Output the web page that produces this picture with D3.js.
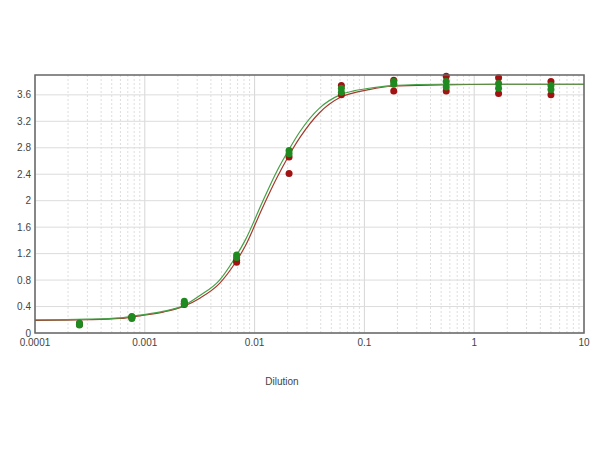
<!DOCTYPE html>
<html>
<head>
<meta charset="utf-8">
<script src="https://cdn.jsdelivr.net/npm/d3@7"></script>
<style>
  body { margin: 0; background: #fff; }
  svg { display: block; }
</style>
</head>
<body>
<div id="chart"></div>
<script>
const dilutions = [0.000254, 0.000762, 0.00229, 0.00686, 0.0206, 0.0617, 0.185, 0.556, 1.667, 5];
const redRep1   = [0.13, 0.23, 0.45, 1.10, 2.66, 3.74, 3.82, 3.88, 3.86, 3.80];
const redRep2   = [0.14, 0.24, 0.43, 1.07, 2.41, 3.60, 3.66, 3.66, 3.62, 3.60];
const greenRep1 = [0.15, 0.25, 0.48, 1.18, 2.76, 3.70, 3.80, 3.80, 3.77, 3.74];
const greenRep2 = [0.12, 0.22, 0.44, 1.14, 2.71, 3.64, 3.76, 3.72, 3.70, 3.68];

// fitted curves
const curveX     = [0.0001, 0.0003, 0.0006, 0.0009, 0.0015, 0.0023, 0.0032, 0.0048, 0.0066, 0.0082, 0.0117, 0.016, 0.02, 0.026, 0.039, 0.06, 0.08, 0.11, 0.18, 0.5, 1.5, 10];
const greenCurve = [0.20, 0.21, 0.23, 0.27, 0.33, 0.42, 0.57, 0.80, 1.13, 1.40, 1.97, 2.45, 2.74, 3.05, 3.40, 3.60, 3.66, 3.70, 3.74, 3.76, 3.76, 3.76];
const redCurve   = [0.19, 0.20, 0.22, 0.26, 0.32, 0.41, 0.53, 0.75, 1.05, 1.31, 1.88, 2.35, 2.65, 2.96, 3.33, 3.56, 3.63, 3.68, 3.73, 3.75, 3.76, 3.76];

const xTicks = [0.0001, 0.001, 0.01, 0.1, 1, 10];
const xTickLabels = ["0.0001", "0.001", "0.01", "0.1", "1", "10"];
const yTicks = [0, 0.4, 0.8, 1.2, 1.6, 2, 2.4, 2.8, 3.2, 3.6];

const width = 600;
const height = 450;
const plot = { left: 35, right: 584, top: 75, bottom: 333 };

const svg = d3.select("#chart").append("svg")
    .attr("width", width)
    .attr("height", height)
    .style("font-family", "'Liberation Sans', Arial, sans-serif");

svg.append("rect")
    .attr("width", width)
    .attr("height", height)
    .attr("fill", "#fff");

const x = d3.scaleLog()
    .domain([0.0001, 10])
    .range([plot.left, plot.right]);

const y = d3.scaleLinear()
    .domain([0, 3.9])
    .range([plot.bottom, plot.top]);

// vertical grid: minor lines inside each decade, decade lines solid
const minorX = [];
xTicks.slice(0, -1).forEach(function (d) {
    for (let k = 2; k <= 9; k++) minorX.push(d * k);
});

svg.append("g")
    .selectAll("line")
    .data(minorX)
    .enter().append("line")
    .attr("x1", d => x(d)).attr("x2", d => x(d))
    .attr("y1", plot.top).attr("y2", plot.bottom)
    .attr("stroke", "#dedede")
    .attr("stroke-dasharray", "2,2")
    .attr("stroke-width", 1);

svg.append("g")
    .selectAll("line")
    .data(xTicks)
    .enter().append("line")
    .attr("x1", d => x(d)).attr("x2", d => x(d))
    .attr("y1", plot.top).attr("y2", plot.bottom)
    .attr("stroke", "#d6d6d6")
    .attr("stroke-width", 1);

// horizontal grid
svg.append("g")
    .selectAll("line")
    .data(yTicks)
    .enter().append("line")
    .attr("x1", plot.left).attr("x2", plot.right)
    .attr("y1", d => y(d)).attr("y2", d => y(d))
    .attr("stroke", "#dcdcdc")
    .attr("stroke-width", 1);

// axis labels
svg.append("g")
    .selectAll("text")
    .data(yTicks)
    .enter().append("text")
    .attr("x", plot.left - 4)
    .attr("y", d => y(d))
    .attr("dy", "0.35em")
    .attr("text-anchor", "end")
    .attr("font-size", 10)
    .attr("fill", "#444")
    .text(d => d);

svg.append("g")
    .selectAll("text")
    .data(xTicks)
    .enter().append("text")
    .attr("x", d => x(d))
    .attr("y", plot.bottom + 13)
    .attr("text-anchor", "middle")
    .attr("font-size", 10)
    .attr("fill", "#444")
    .text((d, i) => xTickLabels[i]);

svg.append("text")
    .attr("x", 282)
    .attr("y", 385)
    .attr("text-anchor", "middle")
    .attr("font-size", 10)
    .attr("fill", "#444")
    .text("Dilution");

// fitted curves
const line = d3.line()
    .x(d => x(d[0]))
    .y(d => y(d[1]))
    .curve(d3.curveMonotoneX);

svg.append("path")
    .datum(d3.zip(curveX, redCurve))
    .attr("d", line)
    .attr("fill", "none")
    .attr("stroke", "#a33a2c")
    .attr("stroke-width", 1.2);

svg.append("path")
    .datum(d3.zip(curveX, greenCurve))
    .attr("d", line)
    .attr("fill", "none")
    .attr("stroke", "#45a045")
    .attr("stroke-width", 1.2);

// replicate points
function drawPoints(values, color) {
    svg.append("g")
        .selectAll("circle")
        .data(d3.zip(dilutions, values))
        .enter().append("circle")
        .attr("cx", d => x(d[0]))
        .attr("cy", d => y(d[1]))
        .attr("r", 3.5)
        .attr("fill", color);
}

drawPoints(redRep1, "#a11212");
drawPoints(redRep2, "#a11212");
drawPoints(greenRep1, "#1f8a1f");
drawPoints(greenRep2, "#1f8a1f");

// frame
svg.append("rect")
    .attr("x", plot.left)
    .attr("y", plot.top)
    .attr("width", plot.right - plot.left)
    .attr("height", plot.bottom - plot.top)
    .attr("fill", "none")
    .attr("stroke", "#666")
    .attr("stroke-width", 1.5);
</script>
</body>
</html>
